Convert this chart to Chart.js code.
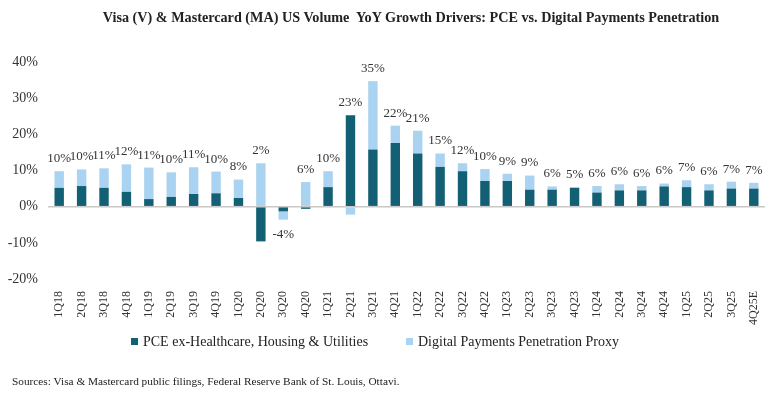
<!DOCTYPE html>
<html>
<head>
<meta charset="utf-8">
<script src="https://cdn.jsdelivr.net/npm/chart.js@4.4.1/dist/chart.umd.min.js"></script>
<style>
  html, body { margin: 0; padding: 0; background: #ffffff; }
  #wrap { position: relative; width: 780px; height: 398px; font-family: 'Liberation Serif', 'DejaVu Serif', serif; color: #222; }
  canvas { display: block; position: absolute; left: 0; top: 0; }
  #title { position: absolute; top: 9px; left: 0; width: 822px; text-align: center; font-weight: bold; font-size: 14.2px; white-space: pre; }
  #legend { position: absolute; top: 333px; left: 0; width: 780px; height: 18px; }
  .li { position: absolute; top: 0; font-size: 14px; line-height: 18px; white-space: nowrap; }
  .sw { display: inline-block; width: 7px; height: 7px; margin-right: 5px; vertical-align: 1px; }
  #source { position: absolute; top: 375px; left: 12px; font-size: 11.3px; white-space: nowrap; }
</style>
</head>
<body>
<div id="wrap">
  <canvas id="c" width="780" height="398"></canvas>
  <div id="title"></div>
  <div id="legend"></div>
  <div id="source"></div>
</div>
<script>
const categories = ["1Q18","2Q18","3Q18","4Q18","1Q19","2Q19","3Q19","4Q19","1Q20","2Q20","3Q20","4Q20","1Q21","2Q21","3Q21","4Q21","1Q22","2Q22","3Q22","4Q22","1Q23","2Q23","3Q23","4Q23","1Q24","2Q24","3Q24","4Q24","1Q25","2Q25","3Q25","4Q25E"];
const pceValues = [5.2,5.7,5.2,4.1,2.1,2.7,3.5,3.7,2.4,-9.6,-1.3,-0.6,5.4,25.3,15.8,17.6,14.7,11.0,9.8,7.1,7.1,4.7,4.7,5.2,3.9,4.5,4.5,5.6,5.4,4.5,5.0,5.0];
const digitalValues = [4.6,4.6,5.4,7.6,8.7,6.8,7.4,6.0,5.1,12.0,-2.3,6.8,4.4,-2.2,18.9,4.8,6.3,3.7,2.2,3.3,2.0,3.9,0.9,0.2,1.8,1.7,1.2,0.8,1.9,1.7,1.9,1.6];
const yTicks = [-20,-10,0,10,20,30,40];
const seriesNames = ["PCE ex-Healthcare, Housing & Utilities","Digital Payments Penetration Proxy"];
const titleText = "Visa (V) & Mastercard (MA) US Volume  YoY Growth Drivers: PCE vs. Digital Payments Penetration";
const sourceText = "Sources: Visa & Mastercard public filings, Federal Reserve Bank of St. Louis, Ottavi.";

const SERIF = "'Liberation Serif', 'DejaVu Serif', serif";
const DARK = "#135f74";
const LIGHT = "#a9d3f0";
const colors = [DARK, LIGHT];

document.getElementById('title').textContent = titleText;
document.getElementById('source').textContent = sourceText;
const legendLefts = [131, 406];
const lg = document.getElementById('legend');
seriesNames.forEach((n, i) => {
  const d = document.createElement('div');
  d.className = 'li';
  d.style.left = legendLefts[i] + 'px';
  const s = document.createElement('span');
  s.className = 'sw';
  s.style.background = colors[i];
  d.appendChild(s);
  d.appendChild(document.createTextNode(n));
  lg.appendChild(d);
});

const totalsPlugin = {
  id: 'totals',
  afterDatasetsDraw(chart) {
    const ctx = chart.ctx;
    const x = chart.scales.x, y = chart.scales.y;
    ctx.save();
    ctx.font = "13px " + SERIF;
    ctx.fillStyle = "#333333";
    ctx.textAlign = "center";
    categories.forEach((c, i) => {
      const a = pceValues[i], b = digitalValues[i];
      const total = a + b;
      const pos = (a > 0 ? a : 0) + (b > 0 ? b : 0);
      const neg = (a < 0 ? a : 0) + (b < 0 ? b : 0);
      const px = x.getPixelForValue(i);
      const label = Math.round(total) + "%";
      if (total >= 0) {
        ctx.textBaseline = "bottom";
        ctx.fillText(label, px, y.getPixelForValue(pos) - 6);
      } else {
        ctx.textBaseline = "top";
        ctx.fillText(label, px, y.getPixelForValue(neg) + 8);
      }
    });
    ctx.restore();
  }
};

new Chart(document.getElementById('c'), {
  type: 'bar',
  data: {
    labels: categories,
    datasets: [
      { label: seriesNames[0], data: pceValues, backgroundColor: DARK, barPercentage: 0.42, categoryPercentage: 1.0, stack: 's' },
      { label: seriesNames[1], data: digitalValues, backgroundColor: LIGHT, barPercentage: 0.42, categoryPercentage: 1.0, stack: 's' }
    ]
  },
  options: {
    responsive: false,
    animation: false,
    layout: { padding: { left: 8, right: 15, top: 62, bottom: 69 } },
    plugins: {
      title: { display: false },
      legend: { display: false },
      tooltip: { enabled: false }
    },
    scales: {
      x: {
        stacked: true,
        grid: { display: false },
        border: { display: false },
        ticks: { minRotation: 90, maxRotation: 90, autoSkip: false, padding: 4, color: "#333333", font: { family: SERIF, size: 12 } }
      },
      y: {
        stacked: true,
        min: -20, max: 40,
        afterBuildTicks(scale) { scale.ticks = yTicks.map(v => ({ value: v })); },
        afterFit(scale) { scale.width = 40; },
        grid: {
          drawTicks: false,
          color: (c) => c.tick && c.tick.value === 0 ? "#c8c8c8" : "rgba(0,0,0,0)",
          lineWidth: 1.5
        },
        border: { display: false },
        ticks: { padding: 10, color: "#333333", font: { family: SERIF, size: 14 }, callback: (v) => v + "%" }
      }
    }
  },
  plugins: [totalsPlugin]
});
</script>
</body>
</html>
